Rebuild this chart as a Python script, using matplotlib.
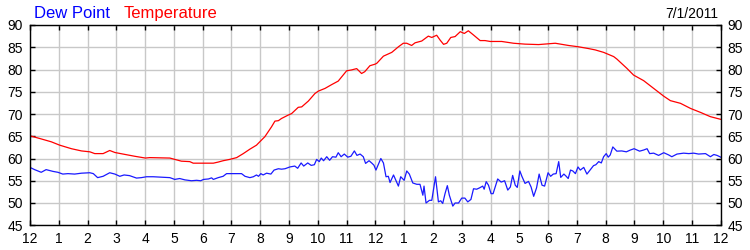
import matplotlib
matplotlib.use('Agg')
from matplotlib import pyplot as plt

# hours after midnight, 7/1/2011
temp_hours = [0, 0.39, 0.74, 1.03, 1.44, 1.79, 2.08, 2.25, 2.54, 2.77, 2.95,
              3.23, 3.64, 4.01, 4.16, 4.86, 5.03, 5.26, 5.55, 5.67, 6.37, 6.54,
              6.71, 6.94, 7.18, 7.41, 7.64, 7.87, 7.93, 8.16, 8.39, 8.51, 8.63,
              8.74, 8.97, 9.09, 9.32, 9.44, 9.67, 9.9, 10.02, 10.25, 10.48,
              10.71, 11.0, 11.17, 11.35, 11.52, 11.63, 11.81, 11.99, 12.05,
              12.28, 12.57, 12.8, 12.97, 13.09, 13.26, 13.38, 13.61, 13.84,
              13.96, 14.13, 14.25, 14.37, 14.48, 14.62, 14.77, 14.95, 15.09,
              15.23, 15.41, 15.64, 15.81, 15.99, 16.39, 16.8, 17.2, 17.67,
              18.25, 18.71, 19.06, 19.41, 19.64, 19.93, 20.28, 20.39, 20.74,
              20.97, 21.32, 21.67, 22.02, 22.25, 22.6, 22.95, 23.3, 23.64, 24.0]
temp_values = [65.1, 64.4, 63.75, 63.0, 62.2, 61.7, 61.5, 61.1, 61.1, 61.8, 61.35,
               61.0, 60.5, 60.1, 60.2, 60.1, 59.8, 59.4, 59.3, 58.95, 58.95, 59.2,
               59.5, 59.8, 60.2, 61.1, 62.1, 63.0, 63.4, 64.9, 67.1, 68.4, 68.5,
               69.0, 69.75, 70.1, 71.5, 71.6, 72.9, 74.6, 75.15, 75.75, 76.6,
               77.4, 79.7, 79.9, 80.2, 79.1, 79.5, 80.85, 81.2, 81.4,
               83.0, 83.85, 85.1, 85.9, 85.9, 85.4, 86.0, 86.4, 87.5,
               87.2, 87.7, 86.6, 85.65, 85.9, 87.2, 87.4, 88.5, 88.1,
               88.7, 87.75, 86.5, 86.5, 86.3, 86.3, 85.9, 85.7, 85.6,
               85.9, 85.4, 85.1, 84.7, 84.4, 83.85, 82.9, 82.35, 80.25,
               78.75, 77.5, 75.75, 74.0, 73.0, 72.4, 71.25, 70.35, 69.4, 68.8]

dew_hours = [0, 0.16, 0.39, 0.56, 0.8, 0.97, 1.14, 1.32, 1.55, 1.79, 2.08, 2.2,
             2.35, 2.54, 2.77, 2.95, 3.12, 3.27, 3.46, 3.7, 3.87, 4.05, 4.28,
             4.86, 5.03, 5.2, 5.38, 5.61, 5.79, 5.93, 6.03, 6.2, 6.31, 6.37,
             6.54, 6.71, 6.83, 7.35, 7.47, 7.64, 7.76, 7.87, 7.94, 8.02, 8.1,
             8.22, 8.37, 8.48, 8.63, 8.74, 8.86, 9.03, 9.2, 9.3, 9.42, 9.51,
             9.65, 9.77, 9.88, 9.96, 10.05, 10.12, 10.2, 10.31, 10.41, 10.51,
             10.63, 10.71, 10.81, 10.92, 11.04, 11.15, 11.27, 11.36, 11.47,
             11.58, 11.66, 11.78, 11.87, 11.95, 12.02, 12.19, 12.28, 12.37,
             12.45, 12.51, 12.63, 12.71, 12.8, 12.88, 13.0, 13.09, 13.18, 13.3,
             13.44, 13.55, 13.65, 13.69, 13.76, 13.88, 13.96, 14.09, 14.19,
             14.27, 14.34, 14.42, 14.5, 14.57, 14.69, 14.77, 14.89, 15.0,
             15.11, 15.21, 15.32, 15.41, 15.52, 15.62, 15.73, 15.78, 15.85,
             15.93, 16.02, 16.09, 16.25, 16.37, 16.49, 16.6, 16.69, 16.77,
             16.86, 16.93, 17.02, 17.09, 17.2, 17.32, 17.41, 17.5, 17.6, 17.69,
             17.79, 17.88, 18.0, 18.09, 18.18, 18.28, 18.37, 18.44, 18.55,
             18.63, 18.7, 18.78, 18.86, 18.95, 19.04, 19.12, 19.24, 19.35,
             19.47, 19.58, 19.66, 19.76, 19.85, 19.93, 20.02, 20.09, 20.16,
             20.25, 20.39, 20.56, 20.72, 20.86, 20.99, 21.18, 21.32, 21.44,
             21.53, 21.67, 21.84, 22.02, 22.19, 22.3, 22.48, 22.71, 22.89,
             23.06, 23.23, 23.47, 23.64, 23.76, 23.87, 24.0]
dew_values = [58.0, 57.5, 56.9, 57.5, 57.1, 56.9, 56.5, 56.6, 56.5, 56.7, 56.8, 56.6,
              55.7, 56.0, 56.8, 56.5, 56.0, 56.3, 56.15, 55.6, 55.7, 55.9, 55.9,
              55.7, 55.3, 55.5, 55.2, 55.0, 55.1, 55.0, 55.3, 55.4, 55.65, 55.3,
              55.7, 56.0, 56.6, 56.6, 56.0, 55.7, 55.9, 56.3, 56.0, 56.6, 56.3,
              56.7, 56.5, 57.4, 57.7, 57.6, 57.7, 58.1, 58.3, 57.8, 59.0, 58.3,
              59.0, 58.45, 58.6, 59.8, 59.3, 60.1, 59.5, 60.4, 59.6, 60.4,
              60.3, 61.3, 60.4, 61.0, 60.3, 60.5, 61.7, 60.7, 61.0,
              60.4, 58.9, 59.5, 59.0, 58.5, 57.4, 60.0, 59.0, 55.9,
              56.0, 54.6, 56.3, 55.1, 53.8, 55.9, 55.1, 57.2, 56.5, 54.5,
              54.2, 54.2, 51.75, 53.8, 50.0, 50.6, 50.6, 55.9, 50.25,
              50.5, 49.9, 52.1, 53.9, 51.75, 49.3, 50.0, 50.0, 51.1,
              51.1, 50.25, 50.8, 53.2, 53.1, 53.4, 53.8, 53.1, 54.8,
              54.0, 52.1, 52.1, 55.4, 54.7, 55.0, 52.9, 53.6, 56.2,
              54.0, 53.5, 57.2, 56.0, 54.4, 54.85, 53.6, 51.5, 53.4, 56.5,
              54.0, 53.8, 56.8, 56.0, 56.5, 56.6, 59.3, 55.75, 56.5,
              56.0, 55.5, 57.4, 57.2, 56.6, 58.1, 57.4, 58.0, 56.5,
              57.5, 58.4, 58.6, 59.3, 59.0, 60.4, 61.1, 60.3, 60.8,
              62.6, 61.65, 61.7, 61.5, 61.9, 62.2, 61.65, 61.9, 62.2,
              61.1, 61.2, 60.7, 61.3, 60.8, 60.4, 61.0, 61.2, 61.1,
              61.2, 61.0, 61.1, 60.4, 60.9, 60.7, 60.3]

hour_labels = ['12', '1', '2', '3', '4', '5', '6', '7', '8', '9', '10', '11',
               '12', '1', '2', '3', '4', '5', '6', '7', '8', '9', '10', '11', '12']
y_ticks = [45, 50, 55, 60, 65, 70, 75, 80, 85, 90]

plt.rcParams['font.family'] = ['Liberation Sans', 'DejaVu Sans']

fig = plt.figure(figsize=(7.5, 2.5), dpi=100)
ax = fig.add_axes([0.04, 0.099, 0.921, 0.801])

ax.plot(temp_hours, temp_values, color='#ff0000', lw=0.9)
ax.plot(dew_hours, dew_values, color='#1a1aff', lw=0.9)

ax.set_xlim(0, 24)
ax.set_ylim(45, 90)
ax.set_xticks(range(25))
ax.set_xticklabels(hour_labels)
ax.set_yticks(y_ticks)
ax.grid(True, color='#c8c8c8', lw=1)
ax.set_axisbelow(True)
ax.tick_params(labelsize=10, length=3.5, width=1, pad=5, direction='in',
               left=True, right=True, top=True, bottom=True,
               labelleft=True, labelright=True)
for s in ax.spines.values():
    s.set_linewidth(1)

fig.text(0.045, 0.945, 'Dew Point', color='#0000ff', fontsize=12, va='center')
fig.text(0.165, 0.945, 'Temperature', color='#ff0000', fontsize=12, va='center')
fig.text(0.957, 0.945, '7/1/2011', color='black', fontsize=10, va='center', ha='right')

fig.savefig('out.png', dpi=100)
